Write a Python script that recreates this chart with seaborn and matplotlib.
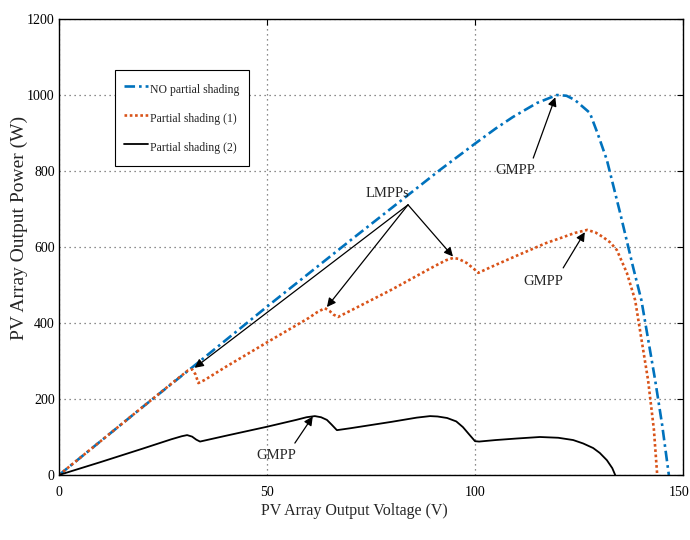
import matplotlib
matplotlib.use("Agg")
import matplotlib.pyplot as plt
import matplotlib.transforms as mtransforms
import seaborn as sns
import numpy as np
import pandas as pd

# ---- data ----
v_blue = [0, 10, 20, 32, 50, 60, 70, 80, 91.6, 100, 105, 109.1, 114.9, 119.7, 122, 124, 127.6,
          129.5, 131.7, 134.9, 138, 140, 143.3, 145, 146.6]
p_blue = [0, 89, 178, 283, 443, 530, 617, 703, 803, 872, 912, 942, 979, 1000, 998, 987, 953,
          898, 829, 689, 547, 460, 250, 131, 0]

v_or = [0, 10, 20, 28, 31, 32, 32.8, 33.5, 35, 40, 50, 60, 62, 63.9, 65, 66, 67.1, 70, 80, 90,
        93, 94.7, 96, 98, 100, 100.8, 105, 110, 113.2, 117, 121.2, 124, 127, 129, 130.8, 132.5,
        134.1, 136.5, 138.5, 140, 141.6, 143, 143.8]
p_or = [0, 89, 178, 249, 275, 278, 265, 242, 250, 284, 349, 413, 428, 439, 432, 422, 416, 432,
        488, 548, 565, 571, 569, 558, 540, 532, 553, 577, 592, 610, 626, 637, 645, 638, 626, 612,
        592, 532, 460, 358, 250, 120, 0]

v_bk = [0, 10, 20, 27, 29.5, 30.8, 32, 33, 33.9, 40, 50, 57, 59.5, 61.5, 63, 64.4, 65.5, 66.8,
        70, 80, 86, 89.2, 91, 93.3, 95.5, 97.1, 98.5, 100, 101, 105, 110, 115.6, 120, 123.6, 126,
        128.4, 130, 131.7, 133, 133.7]
p_bk = [0, 34, 69, 94, 102, 105, 101, 93, 88, 103, 127, 145, 152, 155, 152, 145, 133, 118,
        123, 140, 151, 155, 154, 150, 141, 126, 108, 89, 88, 92, 96, 100, 98, 92, 83,
        71, 58, 39, 18, 0]

labels = ["NO partial shading", "Partial shading (1)", "Partial shading (2)"]
x_ticks = [0, 50, 100, 150]
y_ticks = [0, 200, 400, 600, 800, 1000, 1200]

sns.set_theme(style="white")
plt.rcParams['font.family'] = ['Liberation Serif', 'DejaVu Serif']

fig = plt.figure(figsize=(6.9, 5.4), dpi=100)
ax = fig.add_axes([59/690, 1-475/540, 624/690, 456/540])

df_b = pd.DataFrame({"V": v_blue, "P": p_blue})
df_o = pd.DataFrame({"V": v_or, "P": p_or})
df_k = pd.DataFrame({"V": v_bk, "P": p_bk})

sns.lineplot(data=df_b, x="V", y="P", ax=ax, color="#0072BD", linewidth=1.9,
             linestyle=(0, (4, 1.5, 1, 1.5)), label=labels[0], estimator=None, sort=False)
sns.lineplot(data=df_o, x="V", y="P", ax=ax, color="#D95319", linewidth=1.9,
             linestyle=(0, (1, 1)), label=labels[1], estimator=None, sort=False)
sns.lineplot(data=df_k, x="V", y="P", ax=ax, color="black", linewidth=1.3,
             linestyle="-", label=labels[2], estimator=None, sort=False)

ax.set_xlim(0, 150)
ax.set_ylim(0, 1200)
ax.set_xticks(x_ticks)
ax.set_yticks(y_ticks)
ax.set_xticklabels([str(t) for t in x_ticks])
ax.set_yticklabels([str(t) for t in y_ticks])
ax.tick_params(axis='both', direction='in', length=4, width=0.8, labelsize=10, colors='black',
               top=True, right=True)
ax.tick_params(axis='x', pad=8)
ax.tick_params(axis='y', pad=3)
# nudge the last x tick label so it stays inside the figure
lbl = ax.get_xticklabels()[-1]
lbl.set_transform(lbl.get_transform() + mtransforms.ScaledTranslation(-4/100, 0, fig.dpi_scale_trans))

ax.grid(True, linestyle=(0, (1, 3)), color='#666666', linewidth=0.9)
for s in ax.spines.values():
    s.set_color('black')
    s.set_linewidth(1.0)

ax.set_xlabel("PV Array Output Voltage (V)", fontsize=11.5)
ax.set_ylabel("PV Array Output Power (W)", fontsize=14)
ax.xaxis.set_label_coords(0.474, -0.062)
ax.yaxis.set_label_coords(-0.05, 0.542)

leg = ax.legend(loc='upper left', bbox_to_anchor=(0.0897, 0.888), borderaxespad=0, fontsize=8.5,
                frameon=True, fancybox=False, edgecolor='black', framealpha=1,
                handlelength=2.0, handleheight=2.1, handletextpad=0.2, borderpad=0.8,
                labelspacing=0.85)
leg.get_frame().set_linewidth(0.8)

arrow_kw = dict(arrowstyle='-|>', color='black', lw=0.9, mutation_scale=13, shrinkA=0, shrinkB=0)

# LMPPs
ax.text(79, 742, "LMPPs", fontsize=10.5, ha='center', va='center')
for (vx, py) in [(32.6, 282), (64.4, 442), (94.7, 575)]:
    ax.annotate("", xy=(vx, py), xytext=(83.9, 711), arrowprops=arrow_kw)

# GMPPs
ax.annotate("", xy=(119.3, 994), xytext=(114, 834), arrowprops=arrow_kw)
ax.text(109.6, 800, "GMPP", fontsize=10.5, ha='center', va='center')
ax.annotate("", xy=(126.4, 639), xytext=(121.2, 545), arrowprops=arrow_kw)
ax.text(116.5, 508, "GMPP", fontsize=10.5, ha='center', va='center')
ax.annotate("", xy=(61.0, 154), xytext=(56.7, 84), arrowprops=arrow_kw)
ax.text(52.3, 52, "GMPP", fontsize=10.5, ha='center', va='center')

fig.savefig("out.png", dpi=100)
